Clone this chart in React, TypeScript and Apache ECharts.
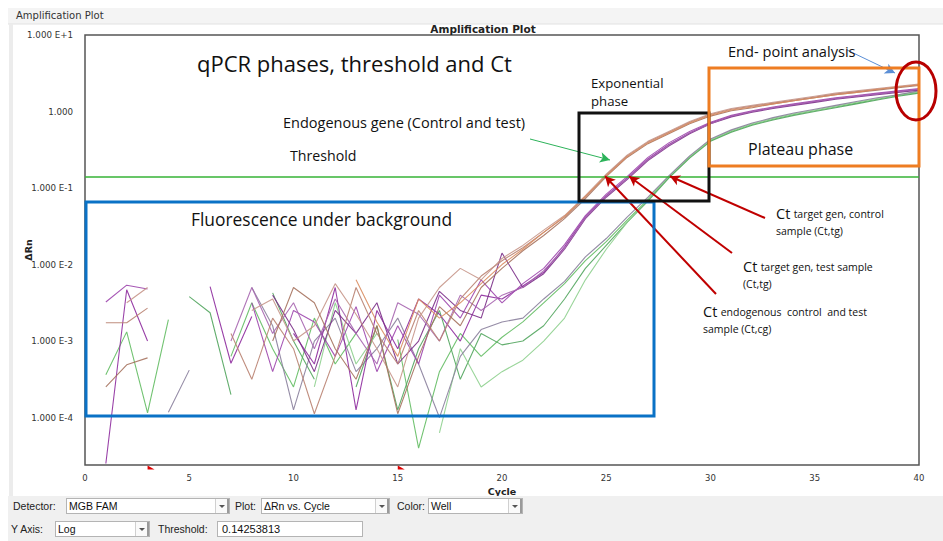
import React, { useEffect, useRef } from 'react';
import * as echarts from 'echarts';

// ΔRn per cycle, stored as log10(ΔRn); null = negative reading (no point on a log scale)
const n = null;
const cycles = [
  1, 2, 3, 4, 5, 6, 7, 8, 9, 10, 11, 12, 13, 14, 15, 16, 17, 18, 19, 20,
  21, 22, 23, 24, 25, 26, 27, 28, 29, 30, 31, 32, 33, 34, 35, 36, 37, 38, 39, 40,
];

// Endogenous gene wells (control and test)
const endo1 = [-2.76, -2.76, -2.57, n, n, n, -2.9, -3.5, -2.7, -3.1, -3.95, -3.2, -2.3, -2.9, -3.3, -2.6, -3.0, -2.45, -2.15, -1.95, -1.78, -1.58, -1.38, -1.12, -0.83, -0.58, -0.4, -0.27, -0.14, -0.04, 0.03, 0.07, 0.11, 0.15, 0.19, 0.23, 0.26, 0.29, 0.32, 0.35];
const endo2 = [n, -2.5, -2.3, n, n, n, n, -2.6, -2.45, -3.0, -2.8, -2.25, -2.65, -3.1, -3.6, -2.7, -2.3, -2.05, -2.2, -1.92, -1.75, -1.55, -1.36, -1.1, -0.82, -0.57, -0.39, -0.26, -0.13, -0.03, 0.04, 0.08, 0.12, 0.16, 0.2, 0.24, 0.27, 0.3, 0.33, 0.36];
const endo3 = [-3.6, -3.31, -3.22, n, n, n, n, n, -3.0, -2.3, -2.5, -3.1, -3.5, -2.8, -3.95, -3.2, -2.55, -2.8, -2.3, -2.05, -1.82, -1.62, -1.4, -1.14, -0.85, -0.6, -0.42, -0.29, -0.16, -0.06, 0.01, 0.05, 0.1, 0.14, 0.18, 0.22, 0.25, 0.28, 0.31, 0.34];
const endo4 = [n, n, n, n, n, n, n, n, n, n, n, n, -2.2, -2.75, -3.2, -2.45, -2.7, -2.5, -2.25, -2.0, -1.8, -1.58, -1.37, -1.11, -0.84, -0.59, -0.41, -0.28, -0.15, -0.05, 0.02, 0.06, 0.1, 0.14, 0.18, 0.22, 0.25, 0.29, 0.32, 0.35];

// Target gene, test sample wells
const test1 = [-4.6, -2.33, -3.0, n, n, -2.29, -3.29, -2.68, n, -2.9, -3.3, -2.3, -3.9, -2.6, -3.1, -2.45, -2.65, -3.0, -2.4, -2.45, -2.28, -2.1, -1.77, -1.38, -1.1, -0.87, -0.62, -0.43, -0.28, -0.15, -0.06, 0.0, 0.05, 0.09, 0.13, 0.17, 0.2, 0.23, 0.26, 0.29];
const test2 = [-2.49, -2.27, -2.32, n, n, n, n, -2.5, -3.4, -2.6, -2.75, -3.2, -2.55, -3.4, -2.8, -3.3, -2.4, -2.7, -2.2, -2.5, -2.25, -2.05, -1.74, -1.36, -1.08, -0.85, -0.6, -0.41, -0.26, -0.14, -0.05, 0.01, 0.06, 0.1, 0.14, 0.18, 0.21, 0.24, 0.27, 0.3];
const test3 = [n, n, n, n, n, n, n, n, -2.4, -2.85, -3.4, -2.6, -2.9, -2.5, -3.3, -3.0, -2.35, -2.6, -2.7, -1.85, -2.3, -2.12, -1.8, -1.4, -1.12, -0.89, -0.64, -0.45, -0.29, -0.16, -0.07, -0.01, 0.04, 0.08, 0.12, 0.16, 0.19, 0.22, 0.25, 0.28];
const test4 = [n, n, n, n, n, n, -3.0, -2.3, -2.9, -2.5, -3.1, -2.45, -2.9, -3.3, -2.5, -2.65, -3.0, -2.4, -2.6, -2.4, -2.3, -2.08, -1.79, -1.39, -1.11, -0.88, -0.63, -0.44, -0.28, -0.16, -0.06, 0.0, 0.05, 0.09, 0.13, 0.17, 0.2, 0.23, 0.26, 0.29];

// Target gene, control sample wells
const ctrl1 = [-3.44, -2.88, -3.94, -2.72, n, n, -3.2, -2.5, -3.1, -3.6, -2.7, -3.3, -2.9, n, -2.98, -4.4, -3.4, -2.9, -3.2, -2.95, -2.75, -2.5, -2.25, -1.95, -1.7, -1.42, -1.15, -0.86, -0.6, -0.38, -0.26, -0.17, -0.1, -0.04, 0.01, 0.06, 0.11, 0.16, 0.21, 0.25];
const ctrl2 = [n, n, n, n, -2.42, -2.63, -3.7, n, -2.37, -3.0, -3.5, n, -3.6, -2.8, -3.9, -3.1, -2.6, -3.5, -2.9, -3.05, -3.0, -2.8, -2.45, -2.05, -1.75, -1.45, -1.17, -0.87, -0.61, -0.39, -0.27, -0.18, -0.11, -0.05, 0.0, 0.05, 0.1, 0.15, 0.2, 0.24];
const ctrl3 = [n, n, n, n, n, n, n, n, n, n, -3.6, -2.5, -3.3, -2.9, n, n, -4.2, -3.1, -3.6, -3.4, -3.25, -3.0, -2.7, -2.2, -1.8, -1.45, -1.14, -0.85, -0.59, -0.37, -0.25, -0.16, -0.09, -0.03, 0.02, 0.07, 0.12, 0.17, 0.22, 0.26];
const ctrl4 = [n, n, n, -3.93, -3.38, n, n, -2.3, -2.8, -3.9, -3.0, -2.7, -3.4, -3.1, -2.7, -3.3, -4.0, -3.2, -2.85, -2.75, -2.7, -2.45, -2.22, -1.9, -1.66, -1.38, -1.12, -0.84, -0.58, -0.36, -0.24, -0.15, -0.08, -0.02, 0.03, 0.08, 0.13, 0.18, 0.22, 0.27];

const threshold = 0.14253813;
const baselineCycles = [3, 15];
const decadeTicks = [-4, -3, -2, -1, 0, 1];

const wellGroups = [
  { curves: [ctrl1, ctrl2, ctrl3, ctrl4], colors: ['#63bd63', '#52a55e', '#8ed08e', '#8a7f9c'] },
  { curves: [test1, test2, test3, test4], colors: ['#8e2c9f', '#9d46ad', '#7b2f88', '#a766b0'] },
  { curves: [endo1, endo2, endo3, endo4], colors: ['#b98271', '#c7968a', '#a6735f', '#d98c5f'] },
];

const labelFont = 'DejaVu Sans, Verdana, sans-serif';
const noteFont = 'Open Sans, Lato, sans-serif';
const thrLog = Math.log10(threshold);
const yMin = -4.62;
const yMax = 1;

// cycle at which a curve rises through the threshold
function crossing(curve: (number | null)[], level: number): number {
  for (let i = curve.length - 1; i > 0; i--) {
    const a = curve[i - 1];
    const b = curve[i];
    if (a != null && b != null && a < level && b >= level) {
      return cycles[i - 1] + (level - a) / (b - a);
    }
  }
  return NaN;
}

function decadeLabel(v: number): string {
  const e = Math.round(v);
  if (e === 0) return '1.000';
  return e > 0 ? `1.000 E+${e}` : `1.000 E${e}`;
}

function noteText(text: string, x: number, y: number, size: number) {
  return {
    type: 'text',
    x,
    y,
    z: 100,
    silent: true,
    style: {
      text,
      fill: '#111',
      fontSize: size,
      fontFamily: noteFont,
      align: 'left',
      verticalAlign: 'middle',
      textAlign: 'left',
      textVerticalAlign: 'middle',
    },
  };
}

// "Ct" callout: a large "Ct" with a smaller description, and a second line underneath
function ctLabel(first: string, second: string, x: number, y: number) {
  return [
    {
      type: 'text',
      x,
      y,
      z: 100,
      silent: true,
      style: {
        text: `{a|Ct} {b|${first}}`,
        align: 'left',
        verticalAlign: 'middle',
        textAlign: 'left',
        textVerticalAlign: 'middle',
        rich: {
          a: { fontSize: 14.5, fontFamily: noteFont, fill: '#111' },
          b: { fontSize: 10.5, fontFamily: noteFont, fill: '#111' },
        },
      },
    },
    noteText(second, x, y + 17.3, 10.5),
  ];
}

function buildOption(): any {
  const series: any[] = [];
  wellGroups.forEach((g) => {
    g.curves.forEach((curve, k) => {
      series.push({
        type: 'line',
        data: cycles.map((c, i) => [c, curve[i]]),
        symbol: 'none',
        showSymbol: false,
        connectNulls: false,
        silent: true,
        z: 3,
        lineStyle: { width: 1.1, color: g.colors[k], opacity: 0.9 },
      });
    });
  });

  const ctEndo = crossing(endo1, thrLog);
  const ctTest = crossing(test1, thrLog);
  const ctCtrl = crossing(ctrl1, thrLog);

  const redLine = { color: '#c00000', width: 2, type: 'solid' };
  series.push({
    type: 'line',
    data: [],
    silent: true,
    clip: false,
    z: 6,
    markLine: {
      silent: true,
      symbol: ['none', 'none'],
      label: { show: false },
      lineStyle: { color: '#36b336', width: 1.6, type: 'solid' },
      data: [{ yAxis: thrLog }],
    },
    markPoint: {
      silent: true,
      symbol: 'path://M0,0 L0,4 L7,4 Z',
      symbolSize: [7, 4],
      symbolOffset: [3.5, 2.5],
      itemStyle: { color: '#e00000' },
      label: { show: false },
      data: baselineCycles.map((c) => ({ coord: [c, yMin] })),
    },
  });
  series.push({
    type: 'line',
    data: [],
    silent: true,
    clip: false,
    z: 20,
    markLine: {
      silent: true,
      symbol: ['none', 'arrow'],
      symbolSize: [8, 10],
      label: { show: false },
      data: [
        [{ x: 716, y: 294, lineStyle: redLine }, { coord: [ctEndo, thrLog] }],
        [{ x: 732, y: 253, lineStyle: redLine }, { coord: [ctTest, thrLog] }],
        [{ x: 765, y: 218, lineStyle: redLine }, { coord: [ctCtrl, thrLog] }],
        [
          { x: 530, y: 139, lineStyle: { color: '#2db35a', width: 1, type: 'solid' }, symbolSize: [6, 8] },
          { x: 610, y: 160 },
        ],
        [
          { x: 847, y: 50, lineStyle: { color: '#5b8fd6', width: 1, type: 'solid' }, symbolSize: [6, 8] },
          { x: 895, y: 73 },
        ],
      ],
    },
  });

  const graphic: any[] = [
    { type: 'rect', shape: { x: 8, y: 8, width: 935, height: 16 }, style: { fill: '#f4f4f4' }, silent: true },
    { type: 'line', shape: { x1: 8, y1: 24, x2: 943, y2: 24 }, style: { stroke: '#e2e2e2', lineWidth: 1 }, silent: true },
    { type: 'rect', shape: { x: 9, y: 24, width: 4, height: 472 }, style: { fill: '#ececec' }, silent: true },
    {
      type: 'text', x: 16, y: 15, silent: true,
      style: { text: 'Amplification Plot', fill: '#333', fontSize: 10, fontFamily: labelFont, verticalAlign: 'middle', textVerticalAlign: 'middle' },
    },
    {
      type: 'text', x: 483, y: 29, silent: true,
      style: { text: 'Amplification Plot', fill: '#222', fontSize: 10.5, fontWeight: 'bold', fontFamily: labelFont, align: 'center', textAlign: 'center', verticalAlign: 'middle', textVerticalAlign: 'middle' },
    },
    // phase boxes
    { type: 'rect', z: 90, silent: true, shape: { x: 86, y: 202, width: 568, height: 214 }, style: { fill: 'none', stroke: '#0a72c6', lineWidth: 3 } },
    { type: 'rect', z: 90, silent: true, shape: { x: 579, y: 113, width: 130, height: 88 }, style: { fill: 'none', stroke: '#111', lineWidth: 3 } },
    { type: 'rect', z: 90, silent: true, shape: { x: 709, y: 68, width: 210, height: 98 }, style: { fill: 'none', stroke: '#ee7d22', lineWidth: 3 } },
    { type: 'ellipse', z: 91, silent: true, shape: { cx: 916, cy: 91, rx: 20, ry: 29 }, style: { fill: 'none', stroke: '#b80000', lineWidth: 3 } },
    // notes
    noteText('qPCR phases, threshold and Ct', 197, 63, 22),
    noteText('Endogenous gene (Control and test)', 283, 122, 14.5),
    noteText('Threshold', 290, 155, 14.2),
    noteText('Fluorescence under background', 191, 219, 17.4),
    noteText('Exponential', 591, 82.5, 13.2),
    noteText('phase', 591, 100.5, 13.2),
    noteText('End- point analysis', 728, 51, 14.6),
    noteText('Plateau phase', 748, 149, 16),
    ...ctLabel('target gen, control', 'sample (Ct,tg)', 776, 213.5),
    ...ctLabel('target gen, test sample', '(Ct,tg)', 743, 266.5),
    ...ctLabel('endogenous  control  and test', 'sample (Ct,cg)', 703, 311.5),
  ];

  return {
    animation: false,
    backgroundColor: '#fff',
    grid: {
      left: 85,
      right: 24,
      top: 35,
      bottom: 76,
      show: true,
      borderColor: '#555',
      borderWidth: 1.5,
      backgroundColor: 'transparent',
      outerBoundsMode: 'none',
    },
    xAxis: {
      type: 'value',
      min: 0,
      max: 40,
      interval: 5,
      name: 'Cycle',
      nameLocation: 'middle',
      nameGap: 20,
      nameTextStyle: { fontSize: 9.5, fontWeight: 'bold', color: '#222', fontFamily: labelFont },
      axisLine: { show: false },
      axisTick: { show: false },
      splitLine: { show: false },
      axisLabel: { fontSize: 8.5, color: '#333', fontFamily: labelFont, margin: 8 },
    },
    yAxis: {
      type: 'value',
      min: yMin,
      max: yMax,
      name: 'ΔRn',
      nameLocation: 'middle',
      nameRotate: 90,
      nameGap: 52,
      nameMoveOverlap: false,
      nameTextStyle: { fontSize: 9.5, fontWeight: 'bold', color: '#222', fontFamily: labelFont },
      axisLine: { show: false },
      axisTick: { show: false },
      splitLine: { show: false },
      axisLabel: {
        customValues: decadeTicks,
        formatter: (v: number) => decadeLabel(v),
        fontSize: 8.7,
        color: '#333',
        fontFamily: labelFont,
        margin: 12,
      },
    },
    series,
    graphic,
  };
}

function Combo(props: { left: number; top: number; width: number; value: string }) {
  const { left, top, width, value } = props;
  return (
    <div
      style={{
        position: 'absolute', left, top, width, height: 16, boxSizing: 'border-box',
        background: '#fff', border: '1px solid #b4b4b4', fontSize: 10.5, lineHeight: '14px',
        paddingLeft: 2, color: '#111', whiteSpace: 'nowrap',
      }}
    >
      {value}
      <div
        style={{
          position: 'absolute', right: 0, top: 0, width: 14, height: 14, boxSizing: 'border-box',
          borderLeft: '1px solid #d0d0d0', borderRight: '2px solid #9a9a9a', background: '#fafafa',
        }}
      >
        <div
          style={{
            position: 'absolute', left: 3, top: 6, width: 0, height: 0,
            borderLeft: '3px solid transparent', borderRight: '3px solid transparent', borderTop: '3px solid #555',
          }}
        />
      </div>
    </div>
  );
}

function Label(props: { left: number; top: number; text: string }) {
  return (
    <div style={{ position: 'absolute', left: props.left, top: props.top, fontSize: 10.5, lineHeight: '16px', color: '#222', whiteSpace: 'nowrap' }}>
      {props.text}
    </div>
  );
}

export default function App() {
  const ref = useRef<HTMLDivElement>(null);
  useEffect(() => {
    document.body.style.margin = '0';
    const chart = echarts.init(ref.current as HTMLDivElement, null, { renderer: 'svg' });
    chart.setOption(buildOption());
    return () => chart.dispose();
  }, []);

  return (
    <div
      style={{
        position: 'fixed', left: 0, top: 0, width: 943, height: 541, background: '#fff',
        overflow: 'hidden', fontFamily: 'Liberation Sans, Arial, sans-serif',
      }}
    >
      <div ref={ref} style={{ position: 'absolute', left: 0, top: 0, width: 943, height: 541 }} />
      <div style={{ position: 'absolute', left: 8, top: 496, width: 935, height: 45, background: '#f0f0f0' }} />
      <Label left={13} top={498} text="Detector:" />
      <Combo left={66} top={498} width={164} value="MGB FAM" />
      <Label left={235} top={498} text="Plot:" />
      <Combo left={261} top={498} width={129} value="ΔRn vs. Cycle" />
      <Label left={397} top={498} text="Color:" />
      <Combo left={428} top={498} width={95} value="Well" />
      <Label left={11} top={521} text="Y Axis:" />
      <Combo left={55} top={521} width={95} value="Log" />
      <Label left={158} top={521} text="Threshold:" />
      <div
        style={{
          position: 'absolute', left: 217, top: 521, width: 146, height: 16, boxSizing: 'border-box',
          background: '#fff', border: '1px solid #b4b4b4', fontSize: 11, lineHeight: '14px', paddingLeft: 4, color: '#111',
        }}
      >
        {String(threshold)}
      </div>
    </div>
  );
}
